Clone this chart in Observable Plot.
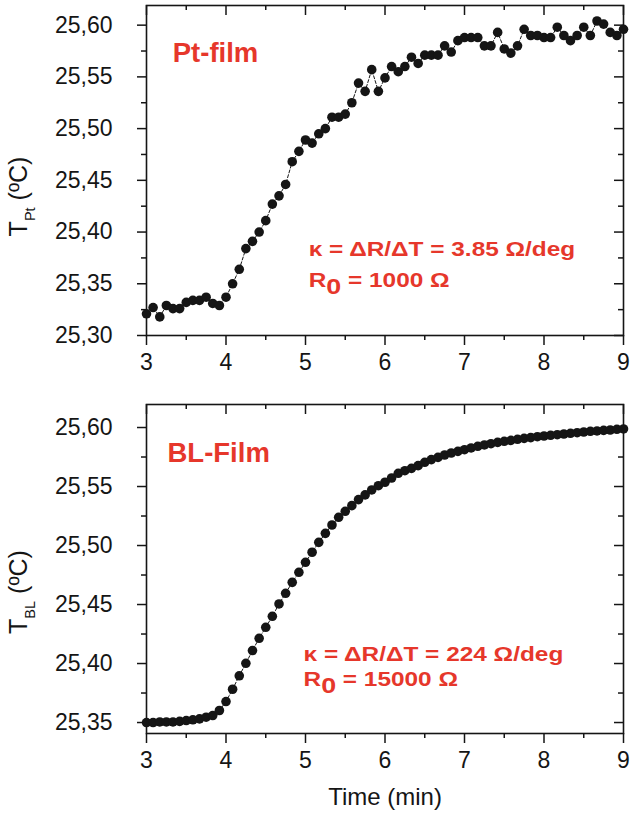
<!DOCTYPE html>
<html><head><meta charset="utf-8">
<script src="https://cdn.jsdelivr.net/npm/d3@7"></script>
<script src="https://cdn.jsdelivr.net/npm/@observablehq/plot@0.6"></script>
<style>
body{margin:0;background:#fff;}
#chart svg{display:block;}
</style></head>
<body><div id="chart"></div>
<script>
// ---- data ----
const times = [
  3.000,3.083,3.167,3.250,3.333,3.417,3.500,3.583,3.667,3.750,3.833,3.917,
  4.000,4.083,4.167,4.250,4.333,4.417,4.500,4.583,4.667,4.750,4.833,4.917,
  5.000,5.083,5.167,5.250,5.333,5.417,5.500,5.583,5.667,5.750,5.833,5.917,
  6.000,6.083,6.167,6.250,6.333,6.417,6.500,6.583,6.667,6.750,6.833,6.917,
  7.000,7.083,7.167,7.250,7.333,7.417,7.500,7.583,7.667,7.750,7.833,7.917,
  8.000,8.083,8.167,8.250,8.333,8.417,8.500,8.583,8.667,8.750,8.833,8.917,
  9.000
];
const ptTemps = [
  25.321,25.327,25.318,25.329,25.326,25.326,25.332,25.334,25.334,25.337,25.331,25.329,
  25.337,25.350,25.364,25.384,25.391,25.400,25.411,25.427,25.435,25.446,25.468,25.478,
  25.489,25.486,25.495,25.500,25.511,25.511,25.514,25.525,25.544,25.536,25.557,25.536,
  25.549,25.560,25.555,25.560,25.569,25.563,25.571,25.571,25.571,25.580,25.574,25.585,
  25.588,25.588,25.588,25.580,25.580,25.593,25.577,25.573,25.580,25.596,25.590,25.590,
  25.588,25.588,25.598,25.590,25.585,25.590,25.598,25.590,25.604,25.601,25.593,25.590,
  25.596
];
const blTemps = [
  25.3500,25.3500,25.3505,25.3505,25.3505,25.3510,25.3517,25.3523,25.3531,25.3545,25.3559,25.3602,
  25.3678,25.3782,25.3896,25.4002,25.4110,25.4214,25.4307,25.4400,25.4505,25.4595,25.4688,25.4773,
  25.4858,25.4943,25.5027,25.5103,25.5174,25.5239,25.5290,25.5338,25.5389,25.5429,25.5471,25.5507,
  25.5536,25.5572,25.5612,25.5634,25.5654,25.5677,25.5705,25.5728,25.5747,25.5767,25.5784,25.5798,
  25.5812,25.5827,25.5841,25.5852,25.5863,25.5874,25.5883,25.5891,25.5900,25.5908,25.5914,25.5922,
  25.5928,25.5934,25.5939,25.5945,25.5951,25.5956,25.5962,25.5968,25.5971,25.5976,25.5979,25.5985,
  25.5988
];
const xMajorTicks = [3,4,5,6,7,8,9];
const xMinorTicks = [3.5,4.5,5.5,6.5,7.5,8.5];
const ptMajorTicks = [25.30,25.35,25.40,25.45,25.50,25.55,25.60];
const ptMinorTicks = [25.325,25.375,25.425,25.475,25.525,25.575];
const blMajorTicks = [25.35,25.40,25.45,25.50,25.55,25.60];
const blMinorTicks = [25.375,25.425,25.475,25.525,25.575];
const xDomain = [3, 9];
const ptDomain = [25.30, 25.619];
const blDomain = [25.3407, 25.6195];
const ptName = "Pt-film";
const blName = "BL-Film";
const ptNotes = ["κ = ΔR/ΔT = 3.85 Ω/deg", "R_{0} = 1000 Ω"];
const blNotes = ["κ = ΔR/ΔT = 224 Ω/deg", "R_{0} = 15000 Ω"];
const ptYTitle = "T_{Pt} (ºC)";
const blYTitle = "T_{BL} (ºC)";
const xTitle = "Time (min)";

// ---- drawing ----
const RED = "#e6372b";
const INK = "#151515";
const FONT = "'Liberation Sans', Arial, Helvetica, sans-serif";
const W = 630, ML = 146, MR = 7;
const fmtComma = d => d3.format(".2f")(d).replace(".", ",");

function addSubscripts(svg, selector, fs, subScale, shift) {
  d3.select(svg).selectAll(selector + " text").each(function () {
    const s = this.textContent;
    const m = s.match(/^(.*?)_\{(.+?)\}(.*)$/);
    if (!m) return;
    this.textContent = "";
    const t = d3.select(this);
    t.append("tspan").text(m[1]);
    t.append("tspan").attr("dy", shift).attr("font-size", fs * subScale).text(m[2]);
    t.append("tspan").attr("dy", -shift).text(m[3]);
  });
}

function stretch(svg, selector, k) {
  d3.select(svg).selectAll(selector + " text").each(function () {
    const tr = this.getAttribute("transform") || "";
    this.setAttribute("transform", tr + ` scale(${k},1)`);
  });
}

function panel(cfg) {
  const data = times.map((t, i) => ({t, v: cfg.values[i]}));
  const fw = W - ML - MR;
  const fh = cfg.height - cfg.marginTop - cfg.marginBottom;
  const marks = [
    Plot.axisX({ticks: xMajorTicks, tickSize: 10, tickPadding: 8, tickFormat: d => String(d), label: null, strokeWidth: 1.5}),
    Plot.axisX({ticks: xMinorTicks, tickSize: 5, tickFormat: () => "", label: null, strokeWidth: 1.5}),
    Plot.axisY({ticks: cfg.yMajor, tickSize: 9, tickPadding: 25, tickFormat: fmtComma, label: null, strokeWidth: 1.5}),
    Plot.axisY({ticks: cfg.yMinor, tickSize: 5, tickFormat: () => "", label: null, strokeWidth: 1.5}),
    Plot.tickX(xMajorTicks, {x: d => d, insetBottom: fh - 10, stroke: INK, strokeWidth: 1.5}),
    Plot.tickX(xMinorTicks, {x: d => d, insetBottom: fh - 5, stroke: INK, strokeWidth: 1.5}),
    Plot.tickY(cfg.yMajor, {y: d => d, insetLeft: fw - 9, stroke: INK, strokeWidth: 1.5}),
    Plot.tickY(cfg.yMinor, {y: d => d, insetLeft: fw - 5, stroke: INK, strokeWidth: 1.5}),
    Plot.frame({stroke: INK, strokeWidth: 1.6}),
    Plot.line(data, {x: "t", y: "v", stroke: INK, strokeWidth: 1, strokeDasharray: "3,2"}),
    Plot.dot(data, {x: "t", y: "v", r: 4.8, fill: INK, stroke: null}),
    Plot.text([cfg.name], {x: cfg.nameAt[0], y: cfg.nameAt[1], text: d => d, textAnchor: "start", fill: RED, fontWeight: "bold", fontSize: 27.5}),
    Plot.text([cfg.notes[0]], {x: cfg.notesAt[0], y: cfg.notesAt[1], text: d => d, textAnchor: "start", fill: RED, fontWeight: "bold", fontSize: 20, className: "note1"}),
    Plot.text([cfg.notes[1]], {x: cfg.notesAt[0], y: cfg.notesAt[2], text: d => d, textAnchor: "start", fill: RED, fontWeight: "bold", fontSize: 20, className: "note2"}),
    Plot.text([cfg.yTitle], {frameAnchor: "left", dx: -128, dy: cfg.yTitleDy, rotate: -90, text: d => d, fontSize: 25, textAnchor: "middle", className: "ytitle"})
  ];
  if (cfg.xTitle) {
    marks.push(Plot.text([cfg.xTitle], {frameAnchor: "bottom", dy: 71, text: d => d, fontSize: 24, textAnchor: "middle"}));
  }
  const svg = Plot.plot({
    width: W,
    height: cfg.height,
    marginLeft: ML,
    marginRight: MR,
    marginTop: cfg.marginTop,
    marginBottom: cfg.marginBottom,
    style: {fontFamily: FONT, fontSize: "23px", color: INK, background: "white", overflow: "visible"},
    x: {domain: xDomain, label: null},
    y: {domain: cfg.yDomain, label: null},
    marks
  });
  addSubscripts(svg, ".ytitle", 25, 0.58, 8);
  addSubscripts(svg, ".note2", 20, 1.1, 7);
  stretch(svg, ".note1", 1.22);
  stretch(svg, ".note2", 1.22);
  return svg;
}

const chart = document.getElementById("chart");
chart.appendChild(panel({
  values: ptTemps, yDomain: ptDomain, yMajor: ptMajorTicks, yMinor: ptMinorTicks,
  height: 370, marginTop: 5, marginBottom: 35,
  name: ptName, nameAt: [3.33, 25.5727],
  notes: ptNotes, notesAt: [5.04, 25.3827, 25.3532],
  yTitle: ptYTitle, yTitleDy: 26
}));
chart.appendChild(panel({
  values: blTemps, yDomain: blDomain, yMajor: blMajorTicks, yMinor: blMinorTicks,
  height: 454, marginTop: 34, marginBottom: 91,
  name: blName, nameAt: [3.264, 25.578],
  notes: blNotes, notesAt: [4.975, 25.4072, 25.386],
  yTitle: blYTitle, yTitleDy: 23, xTitle: xTitle
}));
</script>
</body></html>
